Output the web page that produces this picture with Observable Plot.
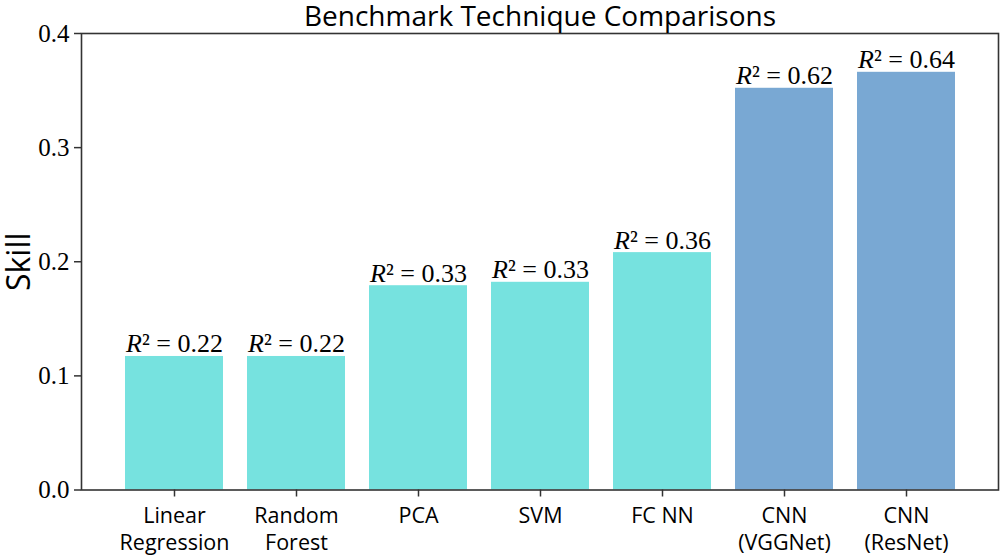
<!DOCTYPE html>
<html><head>
<meta charset="utf-8">
<script src="https://cdn.jsdelivr.net/npm/d3@7"></script>
<script src="https://cdn.jsdelivr.net/npm/@observablehq/plot@0.6"></script>
<style>body{margin:0;background:#fff}</style>
</head><body><div id="chart"></div>
<script>
const categories = ["Linear\nRegression", "Random\nForest", "PCA", "SVM", "FC NN", "CNN\n(VGGNet)", "CNN\n(ResNet)"];
const skill = [0.117, 0.117, 0.179, 0.182, 0.208, 0.352, 0.366];
const r2 = [0.22, 0.22, 0.33, 0.33, 0.36, 0.62, 0.64];
const group = ["classic", "classic", "classic", "classic", "classic", "cnn", "cnn"];
const yTicks = [0, 0.1, 0.2, 0.3, 0.4];
const title = "Benchmark Technique Comparisons";
const yLabel = "Skill";

const data = categories.map((c, i) => ({category: c, skill: skill[i], r2: r2[i], group: group[i]}));

const serif = "'Liberation Serif', serif";
const sans = "'Open Sans', sans-serif";

const chart = Plot.plot({
  width: 1000, height: 556,
  marginTop: 33, marginBottom: 66.5, marginLeft: 81, marginRight: 2,
  style: {background: "#fff", color: "#000", overflow: "visible"},
  x: {domain: categories, paddingInner: 0.2, paddingOuter: 0.345, label: null},
  y: {domain: [0, 0.4], label: null},
  color: {domain: ["classic", "cnn"], range: ["#76e2df", "#79a8d3"]},
  marks: [
    Plot.barY(data, {x: "category", y: "skill", fill: "group"}),
    Plot.text(data, {
      x: "category", y: "skill",
      text: d => `R² = ${d.r2.toFixed(2)}`,
      lineAnchor: "bottom", dy: -4, fontSize: 26, fontFamily: serif, fill: "#000",
      render(index, scales, values, dims, ctx, next) {
        const g = next(index, scales, values, dims, ctx);
        d3.select(g).selectAll("text").each(function() {
          const t = this.textContent;
          this.textContent = "";
          const s = d3.select(this);
          s.append("tspan").attr("font-style", "italic").text(t.slice(0, 1));
          s.append("tspan").text(t.slice(1));
        });
        return g;
      }
    }),
    Plot.axisX({tickSize: 7, tickPadding: 7, fontSize: 21.5, fontFamily: sans, lineHeight: 1.25, stroke: "#333", strokeWidth: 1.5, label: null}),
    Plot.axisY({ticks: yTicks, tickFormat: d => d.toFixed(1), tickSize: 7, tickPadding: 5, fontSize: 25, fontFamily: serif, stroke: "#333", strokeWidth: 1.5, label: null}),
    Plot.frame({stroke: "#333", strokeWidth: 1.6}),
    Plot.text([yLabel], {frameAnchor: "left", dx: -52, rotate: -90, textAnchor: "middle", lineAnchor: "bottom", fontSize: 32, fontFamily: sans, fill: "#000"}),
    Plot.text([title], {frameAnchor: "top", dy: -8, lineAnchor: "bottom", textAnchor: "middle", fontSize: 28, fontFamily: sans, fill: "#000"})
  ]
});
document.getElementById("chart").appendChild(chart);
</script>
</body></html>
